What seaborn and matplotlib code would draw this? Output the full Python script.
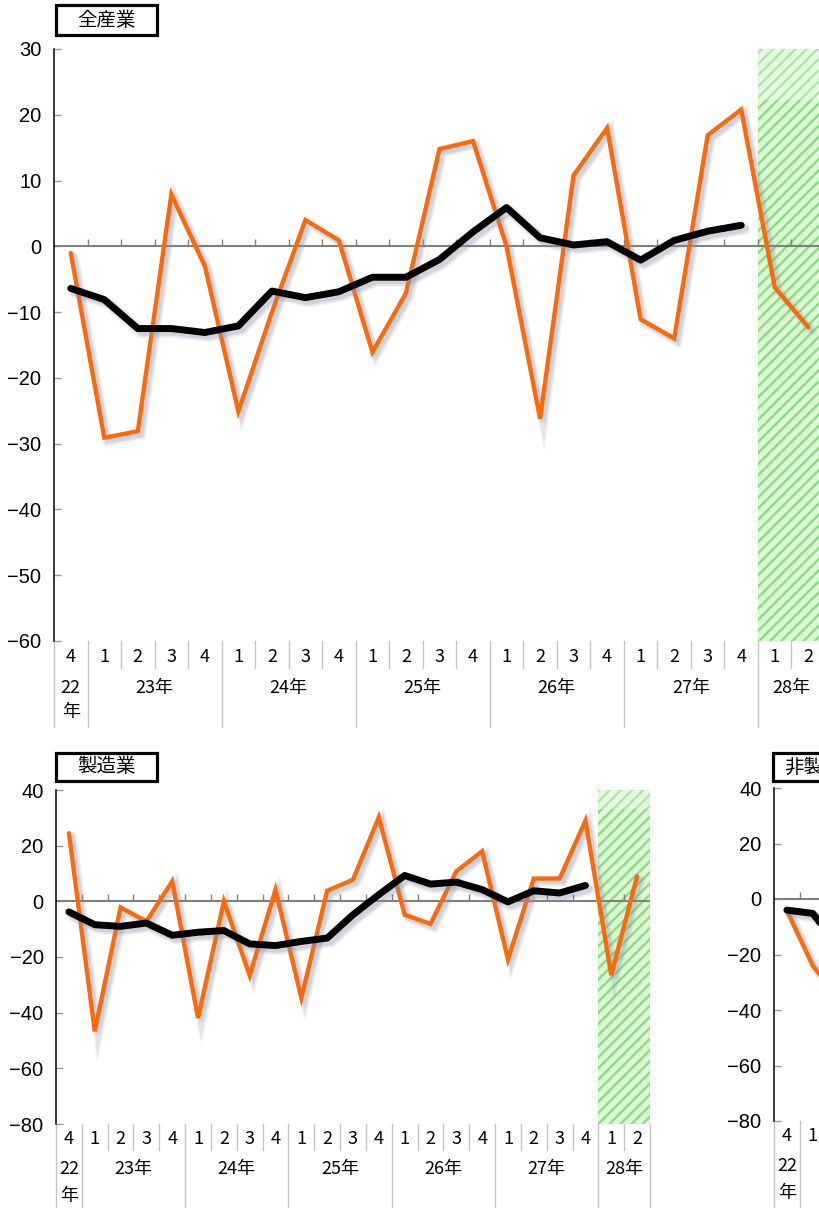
import numpy as np
import matplotlib
matplotlib.use("Agg")
import matplotlib.pyplot as plt
import matplotlib.patheffects as pe
from matplotlib.patches import Rectangle
import seaborn as sns

# ---- data -------------------------------------------------------------
quarters = ["4",
            "1", "2", "3", "4",
            "1", "2", "3", "4",
            "1", "2", "3", "4",
            "1", "2", "3", "4",
            "1", "2", "3", "4",
            "1", "2"]
year_labels = ["22年", "23年", "24年", "25年", "26年", "27年", "28年"]
year_lengths = [1, 4, 4, 4, 4, 4, 2]

# 全産業: quarterly DI (orange) and moving average (black)
all_di = [-1.0, -29.1, -28.1, 7.9, -3.0, -25.1, -10.0, 4.0, 0.9, -16.1, -7.1,
          14.8, 16.0, 0.0, -26.2, 10.8, 18.0, -11.1, -14.0, 16.9, 20.8, -6.2, -12.3]
all_ma = [-6.4, -8.1, -12.5, -12.5, -13.1, -12.1, -6.8, -7.8, -6.9, -4.7, -4.7,
          -2.0, 2.2, 5.9, 1.3, 0.2, 0.7, -2.1, 0.9, 2.3, 3.2]

# 製造業
mfg_di = [24.5, -46.7, -2.2, -7.2, 7.2, -41.9, 0.0, -26.6, 4.2, -34.7, 3.8,
          7.8, 30.2, -4.8, -8.1, 10.8, 18.0, -20.8, 8.2, 8.2, 29.0, -26.5, 9.0]
mfg_ma = [-3.8, -8.4, -9.0, -7.8, -12.2, -11.1, -10.5, -15.3, -15.9, -14.4, -13.2,
          -4.8, 2.4, 9.3, 6.2, 6.9, 4.2, -0.2, 3.8, 3.0, 5.7]

# 非製造業
nonmfg_di = [-4.2, -24.0, -36.0]
nonmfg_ma = [-4.0, -5.2, -17.0]

FORECAST_START = 21          # first forecast quarter (28年 1Q)

# ---- style ------------------------------------------------------------
sns.set_theme(style="white")
plt.rcParams["font.family"] = ["Noto Sans CJK JP", "DejaVu Sans"]
plt.rcParams["hatch.linewidth"] = 1.6
plt.rcParams["axes.unicode_minus"] = True

ORANGE = "#FA6A0A"
BLACK = "#000000"
GRAY = "#808080"
SEP = "#c4c4c4"
BAND_FACE = "#dcf6d6"
BAND_HATCH = "#84de7c"
NUM_FONT = ["Liberation Sans", "DejaVu Sans"]

W, H = 819, 1208
fig = plt.figure(figsize=(W / 100, H / 100), dpi=100, facecolor="white")


def rect(x0, y0, x1, y1):
    return [x0 / W, 1 - y1 / H, (x1 - x0) / W, (y1 - y0) / H]


def shadow(lw):
    return [
        pe.SimpleLineShadow(offset=(2.5, -2.5), shadow_color="#8a93a6", alpha=0.10, linewidth=lw + 4),
        pe.SimpleLineShadow(offset=(2.5, -2.5), shadow_color="#8a93a6", alpha=0.15, linewidth=lw + 2),
        pe.SimpleLineShadow(offset=(2.5, -2.5), shadow_color="#8a93a6", alpha=0.20, linewidth=lw),
        pe.Normal(),
    ]


def visible(ax, x):
    """True when data x of ax lands inside the figure canvas."""
    return ax.transData.transform((x, 0))[0] < W - 4


def draw_panel(ax, di, ma, ylim, ystep, wash_from, q_off, y_off, nen_off,
               q_len, y_len):
    n = len(quarters)
    ax.set_xlim(-0.5, n - 0.5)
    ax.set_ylim(*ylim)

    # forecast band
    ax.axvspan(FORECAST_START - 0.5, n - 0.5, facecolor=BAND_FACE,
               edgecolor=BAND_HATCH, hatch="///", linewidth=0, zorder=0)
    ax.add_patch(Rectangle((FORECAST_START - 0.5, wash_from), n - FORECAST_START,
                           ylim[1] - wash_from, facecolor="white", alpha=0.3,
                           linewidth=0, zorder=0.5))

    # zero line with small upward ticks at quarter boundaries
    ax.axhline(0, color=GRAY, lw=1.5, zorder=1)
    bounds = np.arange(n - 1) + 0.5
    ax.plot(bounds, np.zeros_like(bounds), ls="none", marker=2, ms=5, mew=1,
            color=GRAY, zorder=1)

    sns.lineplot(x=np.arange(len(di)), y=di, ax=ax, color=ORANGE, linewidth=3.1,
                 solid_joinstyle="miter", path_effects=shadow(3.1), zorder=3)
    sns.lineplot(x=np.arange(len(ma)), y=ma, ax=ax, color=BLACK, linewidth=5.0,
                 solid_capstyle="round", solid_joinstyle="round",
                 path_effects=shadow(5.0), zorder=4)

    # y axis
    yt = np.arange(ylim[0], ylim[1] + 1, ystep)
    ax.set_yticks(yt)
    ax.set_yticklabels([f"{v}".replace("-", "\u2212") for v in yt])
    ax.tick_params(axis="y", direction="in", length=5, width=1, color="#9a9a9a",
                   pad=9, left=True, labelsize=14.5, labelcolor="#000000")
    for lab in ax.get_yticklabels():
        lab.set_fontfamily(NUM_FONT)
    ax.set_xticks([])
    ax.set_xlabel("")
    ax.set_ylabel("")
    for s in ("top", "right", "bottom"):
        ax.spines[s].set_visible(False)
    ax.spines["left"].set_color("black")
    ax.spines["left"].set_linewidth(1.1)
    ax.grid(False)

    # category axis below the plot
    hpx = ax.bbox.height
    tr = ax.get_xaxis_transform()
    txt = dict(transform=tr, ha="center", va="center", fontsize=13,
               color="#000000", clip_on=False)
    for i, q in enumerate(quarters):
        if visible(ax, i):
            ax.text(i, -q_off / hpx, q, **txt)
    year_starts = np.concatenate([[0], np.cumsum(year_lengths)])
    for b in range(n + 1):
        L = y_len if b in year_starts else q_len
        ax.plot([b - 0.5, b - 0.5], [0, -L / hpx], transform=tr, color=SEP,
                lw=1, clip_on=False)
    for k, lab in enumerate(year_labels):
        c = year_starts[k] + year_lengths[k] / 2 - 0.5
        if not visible(ax, c + 0.3):
            continue
        if year_lengths[k] == 1:
            ax.text(c, -y_off / hpx, lab[:-1], **txt)
            ax.text(c, -nen_off / hpx, lab[-1], **txt)
        else:
            ax.text(c, -y_off / hpx, lab, **txt)


def title_box(x0, y0, x1, y1, text):
    fig.add_artist(Rectangle((x0 / W, 1 - y1 / H), (x1 - x0) / W, (y1 - y0) / H,
                             transform=fig.transFigure, facecolor="white",
                             edgecolor="black", linewidth=2.3))
    fig.text((x0 + x1) / 2 / W, 1 - (y0 + y1) / 2 / H, text, ha="center",
             va="center", fontsize=14, color="black")


ax_all = fig.add_axes(rect(54, 49, 825, 641))
draw_panel(ax_all, all_di, all_ma, (-60, 30), 10, 22.2,
           q_off=16, y_off=47, nen_off=71, q_len=27, y_len=86)

ax_mfg = fig.add_axes(rect(56, 790, 650, 1124))
draw_panel(ax_mfg, mfg_di, mfg_ma, (-80, 40), 20, 33.0,
           q_off=15, y_off=45, nen_off=72, q_len=26, y_len=90)

ax_non = fig.add_axes(rect(774, 788, 1368, 1121))
draw_panel(ax_non, nonmfg_di, nonmfg_ma, (-80, 40), 20, 33.0,
           q_off=15, y_off=45, nen_off=72, q_len=26, y_len=90)

title_box(56, 5, 157, 35, "全産業")
title_box(56, 753, 157, 781, "製造業")
title_box(773, 753, 874, 781, "非製造業")

fig.savefig("out.png", dpi=100, facecolor="white")
